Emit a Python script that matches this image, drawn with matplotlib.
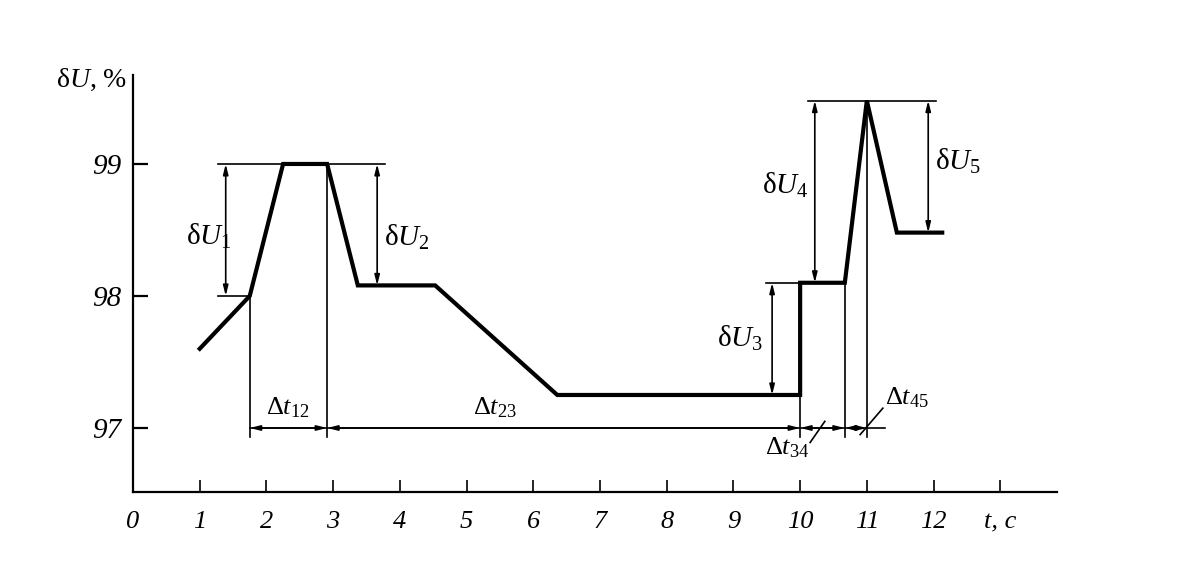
import matplotlib
matplotlib.use("Agg")
import matplotlib.pyplot as plt

plt.rcParams['font.family'] = 'Liberation Serif'
plt.rcParams['mathtext.fontset'] = 'custom'
plt.rcParams['mathtext.rm'] = 'Liberation Serif'
plt.rcParams['mathtext.it'] = 'Liberation Serif:italic'

# кривая отклонения напряжения
t = [1.0, 1.75, 2.25, 2.91, 3.37, 4.53, 6.36, 9.55, 10.0, 10.0, 10.67, 11.0, 11.45, 12.13]
dU = [97.6, 98.0, 99.0, 99.0, 98.08, 98.08, 97.25, 97.25, 97.25, 98.1, 98.1, 99.48, 98.48, 98.48]

# характерные моменты времени
t1, t2, t3, t4, t5 = 1.75, 2.91, 10.0, 10.67, 11.0
t_end = 11.27
# уровни
U1, U_top, U2, U3, U4, U5 = 98.0, 99.0, 98.08, 97.25, 98.1, 98.48
U_peak = 99.48

xticks = list(range(0, 14))
xlabels = [str(i) for i in range(13)] + ['t, c']
yticks = [97, 98, 99]

fig = plt.figure(figsize=(11.79, 5.63), dpi=100)
ax = fig.add_axes([0.1128, 0.1261, 0.7837, 0.7407])
ax.set_xlim(0, 13.85)
ax.set_ylim(96.515, 99.674)
for s in ['top', 'right']:
    ax.spines[s].set_visible(False)
ax.spines['left'].set_linewidth(1.6)
ax.spines['bottom'].set_linewidth(1.6)

ax.set_xticks(xticks)
ax.set_xticklabels(xlabels, fontstyle='italic', fontsize=19)
ax.set_yticks(yticks)
ax.set_yticklabels([str(v) for v in yticks], fontstyle='italic', fontsize=21)
ax.tick_params(axis='x', direction='in', length=9, width=1.2, pad=14)
ax.tick_params(axis='y', direction='in', length=11, width=1.6, pad=8)

ax.text(-0.08, 99.64, r'$\mathrm{\delta}U$, %', ha='right', va='center', fontsize=20)

thin = dict(color='k', lw=1.2)

# основная кривая
ax.plot(t, dU, color='k', lw=3.0, solid_joinstyle='miter')

# выносные линии
ax.plot([1.27, 3.78], [U_top, U_top], **thin)
ax.plot([1.27, t1], [U1, U1], **thin)
ax.plot([t1, t1], [U1, 96.93], **thin)
ax.plot([t2, t2], [U_top, 96.93], **thin)
ax.plot([t3, t3], [U3, 96.93], **thin)
ax.plot([9.49, t3], [U4, U4], **thin)
ax.plot([t4, t4], [U4, 96.93], **thin)
ax.plot([t5, t5], [U_peak, 96.93], **thin)
ax.plot([10.12, 12.04], [U_peak, U_peak], **thin)
ax.plot([t1, t_end], [97.0, 97.0], **thin)


def dim(x0, y0, x1, y1):
    ax.annotate('', xy=(x1, y1), xytext=(x0, y0),
                arrowprops=dict(arrowstyle='<|-|>,head_length=0.6,head_width=0.15',
                                color='k', lw=1.2, shrinkA=0, shrinkB=0))


dim(1.39, U_top, 1.39, U1)
dim(3.66, U_top, 3.66, U2)
dim(9.58, U4, 9.58, U3)
dim(10.22, U_peak, 10.22, U4)
dim(11.92, U_peak, 11.92, U5)
dim(t1, 97.0, t2, 97.0)
dim(t2, 97.0, t3, 97.0)
dim(t3, 97.0, t4, 97.0)
dim(t4, 97.0, t5, 97.0)

fs = 21
ax.text(1.13, 98.45, r'$\mathrm{\delta}U_{\mathrm{1}}$', ha='center', va='center', fontsize=fs)
ax.text(4.1, 98.44, r'$\mathrm{\delta}U_{\mathrm{2}}$', ha='center', va='center', fontsize=fs)
ax.text(9.1, 97.68, r'$\mathrm{\delta}U_{\mathrm{3}}$', ha='center', va='center', fontsize=fs)
ax.text(9.78, 98.84, r'$\mathrm{\delta}U_{\mathrm{4}}$', ha='center', va='center', fontsize=fs)
ax.text(12.37, 99.02, r'$\mathrm{\delta}U_{\mathrm{5}}$', ha='center', va='center', fontsize=fs)

ax.text(2.32, 97.15, r'$\Delta t_{\mathrm{12}}$', ha='center', va='center', fontsize=19)
ax.text(5.43, 97.15, r'$\Delta t_{\mathrm{23}}$', ha='center', va='center', fontsize=19)
ax.text(9.8, 96.85, r'$\Delta t_{\mathrm{34}}$', ha='center', va='center', fontsize=19)
ax.text(11.6, 97.23, r'$\Delta t_{\mathrm{45}}$', ha='center', va='center', fontsize=19)
ax.plot([10.15, 10.37], [96.89, 97.05], **thin)
ax.plot([11.24, 10.9], [97.15, 96.95], **thin)

fig.savefig('out.png', dpi=100)
